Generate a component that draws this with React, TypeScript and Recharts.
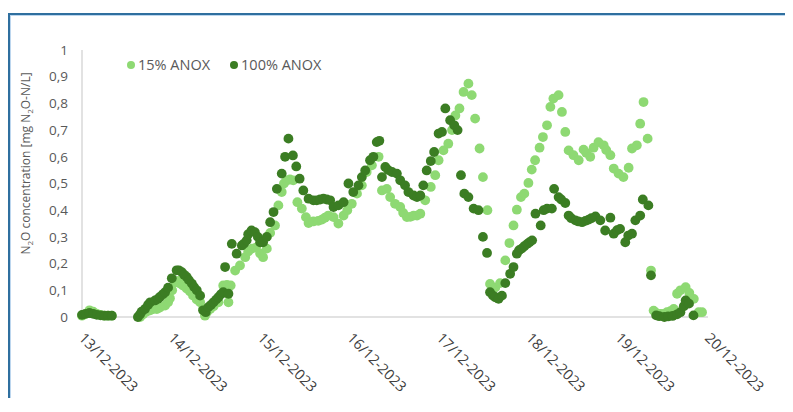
import React from "react";
import { ScatterChart, Scatter, XAxis, YAxis, Label } from "recharts";

// hours since 13/12-2023 00:00, N2O in mg N2O-N/L
const anox15: [number, number][] = [
  [0, 0.005], [1, 0.012], [2, 0.025], [3, 0.02], [4, 0.012], [5, 0.008], [6, 0.005], [7, 0.005], [8, 0.005],
  [15.6, 0.0], [16.4, 0.01], [17.4, 0.02], [18.3, 0.025], [19.1, 0.03], [20.1, 0.03], [20.9, 0.035],
  [22.3, 0.043], [23.1, 0.055], [23.6, 0.07], [24.2, 0.1], [25.0, 0.13], [25.8, 0.135], [26.3, 0.125],
  [27.1, 0.118], [28.1, 0.107], [29.0, 0.095], [29.8, 0.08], [30.8, 0.065], [31.7, 0.055], [32.5, 0.03],
  [33.0, 0.005], [33.5, 0.018], [34.4, 0.03], [35.3, 0.04], [36.6, 0.055], [37.9, 0.118], [38.9, 0.12],
  [39.3, 0.055], [39.9, 0.118], [41.1, 0.174], [42.4, 0.193], [43.8, 0.224], [44.6, 0.245], [45.6, 0.256],
  [46.7, 0.26], [47.8, 0.238], [48.6, 0.224], [49.6, 0.256], [50.5, 0.315], [51.8, 0.343], [52.7, 0.418],
  [53.6, 0.468], [54.2, 0.5], [55.0, 0.512], [55.8, 0.515], [56.7, 0.512], [57.8, 0.43], [59.0, 0.406],
  [60.1, 0.374], [60.8, 0.352], [62.1, 0.358], [63.4, 0.36], [64.4, 0.365], [65.2, 0.372], [66.1, 0.38],
  [67.5, 0.374], [68.8, 0.35], [70.2, 0.38], [71.2, 0.4], [72.4, 0.424], [73.8, 0.462], [75.1, 0.493],
  [76.4, 0.543], [77.8, 0.568], [79.6, 0.6], [80.5, 0.474], [81.8, 0.48], [82.7, 0.449], [84.0, 0.424],
  [85.4, 0.412], [86.2, 0.39], [87.2, 0.374], [88.1, 0.375], [89.0, 0.38], [89.9, 0.38], [90.8, 0.387],
  [92.1, 0.437], [93.6, 0.487], [94.8, 0.531], [95.7, 0.587], [97.0, 0.624], [98.3, 0.649], [99.3, 0.7],
  [100.2, 0.755], [101.3, 0.781], [102.4, 0.843], [103.7, 0.874], [104.6, 0.831], [105.5, 0.743],
  [106.7, 0.631], [107.6, 0.524], [108.8, 0.4], [109.5, 0.124], [110.9, 0.11], [112.2, 0.127],
  [113.6, 0.212], [114.7, 0.277], [115.8, 0.343], [116.7, 0.402], [117.8, 0.449], [118.7, 0.462],
  [119.8, 0.502], [120.7, 0.552], [121.6, 0.587], [122.8, 0.634], [123.7, 0.674], [124.8, 0.718],
  [125.7, 0.787], [126.5, 0.818], [127.9, 0.831], [128.8, 0.768], [129.7, 0.693], [130.6, 0.624],
  [131.9, 0.606], [133.3, 0.587], [134.6, 0.627], [135.3, 0.615], [136.4, 0.6], [137.3, 0.634],
  [138.6, 0.655], [140.0, 0.643], [140.7, 0.625], [141.8, 0.606], [142.7, 0.556], [144.0, 0.537],
  [145.3, 0.524], [146.7, 0.559], [147.6, 0.631], [148.9, 0.643], [149.8, 0.724], [150.7, 0.805],
  [151.8, 0.668], [152.7, 0.174], [153.4, 0.024], [154.1, 0.015], [155.2, 0.012], [156.0, 0.012],
  [157.0, 0.018], [157.9, 0.022], [158.8, 0.03], [159.7, 0.087], [160.6, 0.1], [162.0, 0.112],
  [163.0, 0.09], [164.2, 0.068], [165.5, 0.018], [166.4, 0.018],
];

const anox100: [number, number][] = [
  [0, 0.008], [1, 0.012], [2, 0.015], [3, 0.012], [4, 0.008], [5, 0.006], [6, 0.005], [7, 0.005], [8, 0.005],
  [15.0, 0.0], [15.6, 0.01], [16.0, 0.02], [16.9, 0.03], [17.7, 0.045], [18.3, 0.055], [19.6, 0.062],
  [20.4, 0.068], [20.9, 0.075], [21.7, 0.085], [22.3, 0.093], [23.1, 0.11], [24.1, 0.145], [25.4, 0.175],
  [26.0, 0.175], [26.8, 0.168], [27.4, 0.158], [28.1, 0.15], [28.7, 0.138], [29.5, 0.125], [30.1, 0.112],
  [30.8, 0.1], [31.7, 0.08], [32.5, 0.025], [33.2, 0.018], [33.9, 0.037], [34.6, 0.045], [35.3, 0.055],
  [36.0, 0.065], [36.6, 0.074], [37.3, 0.085], [37.9, 0.093], [38.4, 0.187], [39.3, 0.087], [40.2, 0.274],
  [41.5, 0.237], [42.9, 0.268], [43.5, 0.275], [44.2, 0.287], [44.6, 0.31], [45.5, 0.324], [46.4, 0.318],
  [47.2, 0.3], [47.8, 0.28], [48.6, 0.28], [49.6, 0.3], [50.5, 0.355], [51.4, 0.393], [52.3, 0.48],
  [53.6, 0.537], [54.5, 0.6], [55.4, 0.668], [56.6, 0.605], [57.5, 0.564], [58.4, 0.518], [59.4, 0.474],
  [60.8, 0.443], [62.1, 0.437], [63.0, 0.437], [63.9, 0.44], [64.8, 0.443], [65.7, 0.44], [66.6, 0.437],
  [67.5, 0.412], [68.8, 0.418], [70.2, 0.43], [71.5, 0.5], [72.8, 0.468], [74.2, 0.493], [75.1, 0.524],
  [76.0, 0.549], [77.3, 0.587], [78.2, 0.6], [79.1, 0.655], [79.8, 0.66], [80.5, 0.524], [81.4, 0.562],
  [82.2, 0.55], [83.2, 0.543], [84.5, 0.537], [85.4, 0.512], [86.7, 0.493], [87.6, 0.468], [89.0, 0.455],
  [89.9, 0.449], [90.8, 0.455], [91.6, 0.493], [92.5, 0.549], [93.6, 0.584], [94.5, 0.618], [95.7, 0.687],
  [96.6, 0.693], [97.5, 0.781], [98.8, 0.737], [99.9, 0.718], [100.8, 0.7], [101.7, 0.531], [102.6, 0.462],
  [103.7, 0.449], [105.1, 0.406], [106.4, 0.4], [107.6, 0.3], [108.7, 0.24], [109.5, 0.093], [110.3, 0.08],
  [110.9, 0.074], [111.8, 0.068], [112.7, 0.08], [113.6, 0.127], [114.9, 0.162], [115.8, 0.187],
  [116.7, 0.237], [117.3, 0.25], [118.0, 0.256], [118.7, 0.265], [119.5, 0.274], [120.1, 0.28],
  [120.8, 0.287], [121.7, 0.387], [123.1, 0.343], [123.9, 0.4], [124.8, 0.406], [126.1, 0.406],
  [126.7, 0.48], [127.9, 0.449], [128.6, 0.44], [129.7, 0.427], [130.6, 0.38], [131.3, 0.37],
  [132.4, 0.362], [133.2, 0.358], [134.2, 0.355], [135.1, 0.36], [136.0, 0.365], [136.7, 0.37],
  [137.8, 0.377], [139.1, 0.362], [140.4, 0.324], [141.8, 0.372], [142.7, 0.312], [143.6, 0.325],
  [144.4, 0.33], [145.8, 0.28], [146.6, 0.305], [147.6, 0.312], [148.5, 0.362], [149.8, 0.38],
  [150.5, 0.44], [152.0, 0.418], [152.7, 0.156], [154.1, 0.006], [154.9, 0.003], [156.3, 0.0],
  [157.3, 0.002], [158.5, 0.004], [159.7, 0.01], [160.6, 0.018], [161.5, 0.04], [162.0, 0.062],
  [162.9, 0.05], [164.1, 0.006],
];

const xTicks = [0, 24, 48, 72, 96, 120, 144, 168];
const xTickLabels = ["13/12-2023", "14/12-2023", "15/12-2023", "16/12-2023", "17/12-2023", "18/12-2023", "19/12-2023", "20/12-2023"];
const yTicks = [0, 0.1, 0.2, 0.3, 0.4, 0.5, 0.6, 0.7, 0.8, 0.9, 1];
const yTickLabels = ["0", "0,1", "0,2", "0,3", "0,4", "0,5", "0,6", "0,7", "0,8", "0,9", "1"];
const seriesNames = ["15% ANOX", "100% ANOX"];

const LIGHT = "#8ED973";
const DARK = "#3B7D23";
const FONT = "'Open Sans', sans-serif";

const toPoints = (rows: [number, number][]) => rows.map(([h, v]) => ({ h, v }));

const Dot = (color: string) => (props: any) => (
  <circle cx={props.cx} cy={props.cy} r={4.9} fill={color} />
);

const DateTick = (props: any) => {
  const { x, y, payload } = props;
  const i = xTicks.indexOf(payload.value);
  return (
    <text
      x={x - 4}
      y={y + 14}
      transform={`rotate(45 ${x - 4} ${y + 14})`}
      textAnchor="start"
      fontSize={14.5}
      fill="#404040"
      fontFamily={FONT}
    >
      {xTickLabels[i]}
    </text>
  );
};

const YTitle = (props: any) => {
  const vb = props.viewBox;
  const cx = vb.x - 12;
  const cy = vb.y + vb.height / 2 - 20;
  return (
    <text
      x={cx}
      y={cy}
      transform={`rotate(-90 ${cx} ${cy})`}
      textAnchor="middle"
      fontSize={12}
      fill="#595959"
      fontFamily={FONT}
    >
      N<tspan fontSize={8} dy={3}>2</tspan>
      <tspan dy={-3}>O concentration [mg N</tspan>
      <tspan fontSize={8} dy={3}>2</tspan>
      <tspan dy={-3}>O-N/L]</tspan>
    </text>
  );
};

// legend drawn as an overlay so it does not take room from the plot
const LegendBox = () => (
  <div
    style={{
      position: "absolute",
      top: 40,
      left: 117,
      display: "flex",
      alignItems: "center",
      fontFamily: FONT,
      fontSize: 14.5,
      color: "#595959",
    }}
  >
    {seriesNames.map((name, i) => (
      <div key={name} style={{ display: "flex", alignItems: "center", marginRight: 20 }}>
        <span
          style={{
            width: 8,
            height: 8,
            borderRadius: "50%",
            background: i === 0 ? LIGHT : DARK,
            marginRight: 3,
            display: "inline-block",
          }}
        />
        {name}
      </div>
    ))}
  </div>
);

export default function App() {
  return (
    <div
      style={{
        position: "relative",
        top: 5,
        width: 785,
        height: 390,
        boxSizing: "border-box",
        borderTop: "2px solid #2f6f9f",
        borderLeft: "2px solid #2f6f9f",
        boxShadow: "inset 1px 1px 0 #bcd6ee",
        background: "#fff",
      }}
    >
      <ScatterChart width={783} height={388} margin={{ top: 35, right: 85, bottom: 6, left: 32 }}>
        <XAxis
          type="number"
          dataKey="h"
          domain={[0, 168]}
          ticks={xTicks}
          tick={<DateTick />}
          tickLine={false}
          axisLine={{ stroke: "#d9d9d9", strokeWidth: 1.5 }}
          height={80}
          interval={0}
        />
        <YAxis
          type="number"
          dataKey="v"
          domain={[0, 1]}
          ticks={yTicks}
          tickFormatter={(v: number) => yTickLabels[yTicks.indexOf(v)]}
          tick={{ fontSize: 13.5, fill: "#595959", fontFamily: FONT }}
          tickLine={false}
          tickMargin={8}
          axisLine={{ stroke: "#d9d9d9", strokeWidth: 1.5 }}
          width={40}
          interval={0}
        >
          <Label content={<YTitle />} />
        </YAxis>
        <Scatter name={seriesNames[0]} data={toPoints(anox15)} fill={LIGHT} shape={Dot(LIGHT)} isAnimationActive={false} />
        <Scatter name={seriesNames[1]} data={toPoints(anox100)} fill={DARK} shape={Dot(DARK)} isAnimationActive={false} />
      </ScatterChart>
      <LegendBox />
    </div>
  );
}
